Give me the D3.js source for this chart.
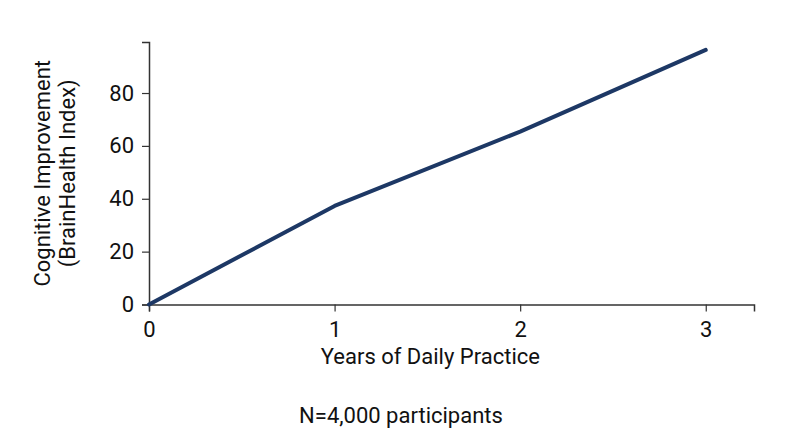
<!DOCTYPE html>
<html>
<head>
<meta charset="utf-8">
<script src="https://cdn.jsdelivr.net/npm/d3@7"></script>
<style>
  body { margin: 0; background: #fff; }
  text { font-family: Roboto, "Noto Sans", sans-serif; fill: #111; }
</style>
</head>
<body>
<script>
// data
var years = [0, 1, 2, 3];
var improvement = [0, 37.3, 65.4, 96.3];
var xTicks = [0, 1, 2, 3];
var yTicks = [0, 20, 40, 60, 80];

var w = 800, h = 447;
var padLeft = 149, padRight = 754, padTop = 42, padBottom = 304.5;
var lineColor = "#1d3865";
var axisColor = "#333";

var svg = d3.select("body").append("svg")
    .attr("width", w)
    .attr("height", h);

var xScale = d3.scaleLinear().domain([0, 3.26]).range([padLeft, padRight]);
var yScale = d3.scaleLinear().domain([0, 99.3]).range([padBottom, padTop]);

// x axis
var xAxis = svg.append("g")
    .attr("transform", "translate(0," + padBottom + ")")
    .call(d3.axisBottom(xScale).tickValues(xTicks).tickSize(7).tickPadding(10).tickFormat(d3.format("d")));
// y axis
var yAxis = svg.append("g")
    .attr("transform", "translate(" + padLeft + ",0)")
    .call(d3.axisLeft(yScale).tickValues(yTicks).tickSize(7).tickPadding(8));

[xAxis, yAxis].forEach(function (g) {
    g.select(".domain").attr("stroke", axisColor).attr("stroke-width", 1.5);
    g.selectAll(".tick line").attr("stroke", axisColor).attr("stroke-width", 1.2);
    g.selectAll(".tick text")
        .attr("font-family", "Roboto, sans-serif")
        .attr("font-size", "22px")
        .attr("fill", "#111");
});

// line
var data = years.map(function (y, i) { return { x: y, y: improvement[i] }; });
var line = d3.line()
    .x(function (d) { return xScale(d.x); })
    .y(function (d) { return yScale(d.y); });

svg.append("path")
    .datum(data)
    .attr("fill", "none")
    .attr("stroke", lineColor)
    .attr("stroke-width", 4)
    .attr("stroke-linecap", "round")
    .attr("stroke-linejoin", "round")
    .attr("d", line);

// axis titles
svg.append("text")
    .attr("x", xScale(1.5) + 3)
    .attr("y", 364)
    .attr("text-anchor", "middle")
    .attr("font-size", "22px")
    .text("Years of Daily Practice");

var yTitle = svg.append("text")
    .attr("transform", "translate(50," + ((padTop + padBottom) / 2) + ") rotate(-90)")
    .attr("text-anchor", "middle")
    .attr("font-size", "22px");
yTitle.append("tspan").attr("x", 0).attr("dy", 0).text("Cognitive Improvement");
yTitle.append("tspan").attr("x", 0).attr("dy", "1.15em").text("(BrainHealth Index)");

// note
svg.append("text")
    .attr("x", 401)
    .attr("y", 423)
    .attr("text-anchor", "middle")
    .attr("font-size", "22px")
    .text("N=4,000 participants");
</script>
</body>
</html>
